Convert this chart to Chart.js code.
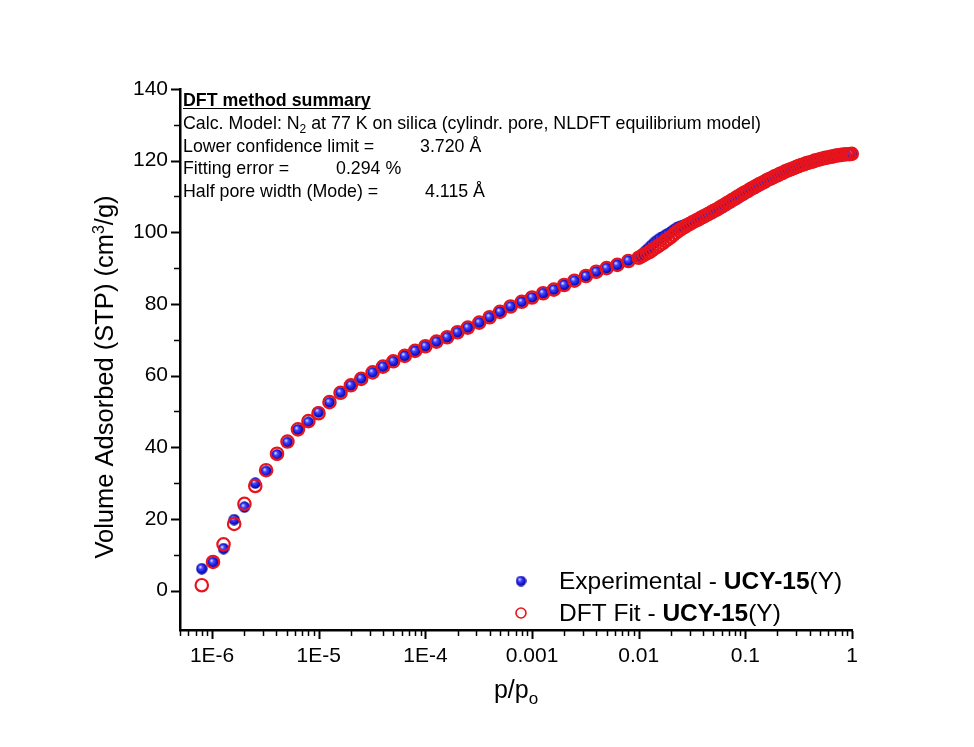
<!DOCTYPE html>
<html><head><meta charset="utf-8">
<script src="https://cdn.jsdelivr.net/npm/chart.js@4.4.0/dist/chart.umd.min.js"></script>
<style>html,body{margin:0;padding:0;background:#fff;}canvas{display:block;}</style>
</head><body>
<canvas id="c" width="974" height="747"></canvas>
<script>
// ---------- DATA ----------
const pressure = [
  8.0e-7, 1.02e-6, 1.28e-6, 1.61e-6, 2.01e-6, 2.54e-6, 3.21e-6, 4.06e-6, 5.09e-6, 6.38e-6,
  8.0e-6, 9.95e-6, 1.26e-5, 1.6e-5, 2.0e-5, 2.5e-5, 3.2e-5, 4.0e-5, 5.0e-5, 6.4e-5,
  8.0e-5, 1.0e-4, 1.27e-4, 1.6e-4, 2.0e-4, 2.5e-4, 3.2e-4, 4.0e-4, 5.0e-4, 6.3e-4,
  8.0e-4, 1.0e-3, 1.27e-3, 1.6e-3, 2.0e-3, 2.5e-3, 3.2e-3, 4.0e-3, 5.0e-3, 6.3e-3, 8.0e-3,
  0.0100, 0.0106, 0.0112, 0.0119, 0.0126, 0.0133, 0.0141, 0.0150, 0.0158, 0.0168,
  0.0178, 0.0188, 0.0200, 0.0211, 0.0224, 0.0237, 0.0251, 0.0266, 0.0282, 0.0299,
  0.0316, 0.0335, 0.0355, 0.0376, 0.0398, 0.0422, 0.0447, 0.0473, 0.0501, 0.0531,
  0.0562, 0.0596, 0.0631, 0.0668, 0.0708, 0.0750, 0.0794, 0.0841, 0.0891, 0.0944,
  0.100, 0.106, 0.112, 0.119, 0.126, 0.133, 0.141, 0.150, 0.158, 0.168,
  0.178, 0.188, 0.200, 0.211, 0.224, 0.237, 0.251, 0.266, 0.282, 0.299,
  0.316, 0.335, 0.355, 0.376, 0.398, 0.422, 0.447, 0.473, 0.501, 0.531,
  0.562, 0.596, 0.631, 0.668, 0.708, 0.750, 0.794, 0.841, 0.891, 0.944, 0.995
];
const experimental = [
  6.1, 7.9, 11.7, 19.8, 23.3, 30.0, 33.3, 37.9, 41.4, 44.9,
  47.0, 49.8, 52.5, 55.3, 57.3, 59.2, 60.9, 62.5, 64.0, 65.5,
  66.9, 68.2, 69.5, 70.7, 72.1, 73.4, 74.8, 76.3, 77.8, 79.3,
  80.6, 81.8, 83.0, 84.0, 85.3, 86.5, 87.8, 89.0, 90.0, 90.9, 92.1,
  93.1, 93.7, 94.4, 95.1, 95.8, 96.5, 97.2, 97.8, 98.3, 98.7,
  99.2, 99.6, 100.1, 100.6, 101.1, 101.5, 101.8, 102.0, 102.3, 102.5,
  102.6, 102.9, 103.2, 103.5, 103.9, 104.3, 104.7, 105.1, 105.5, 105.9,
  106.3, 106.8, 107.2, 107.6, 108.1, 108.5, 109.0, 109.4, 109.9, 110.3,
  110.8, 111.2, 111.7, 112.1, 112.5, 112.9, 113.3, 113.7, 114.1, 114.5,
  114.9, 115.2, 115.6, 116.0, 116.3, 116.7, 117.0, 117.3, 117.6, 117.9,
  118.2, 118.5, 118.8, 119.0, 119.3, 119.5, 119.7, 120.0, 120.2, 120.4,
  120.6, 120.8, 121.0, 121.1, 121.3, 121.4, 121.5, 121.6, 121.7, 121.8, 121.9
];
const dftFit = [
  1.5, 8.0, 12.9, 18.6, 24.2, 29.2, 33.6, 38.2, 41.6, 45.0,
  47.3, 49.5, 52.6, 55.2, 57.3, 59.1, 60.9, 62.5, 64.0, 65.5,
  66.9, 68.2, 69.5, 70.7, 72.1, 73.4, 74.8, 76.3, 77.8, 79.3,
  80.6, 81.8, 83.0, 84.0, 85.3, 86.5, 87.8, 89.0, 90.0, 90.9, 92.0,
  92.9, 93.3, 93.7, 94.1, 94.5, 95.0, 95.5, 96.0, 96.5, 97.0,
  97.6, 98.1, 98.7, 99.3, 99.9, 100.5, 101.0, 101.4, 101.9, 102.3,
  102.7, 103.1, 103.5, 103.9, 104.3, 104.7, 105.1, 105.5, 105.9, 106.3,
  106.7, 107.2, 107.6, 108.1, 108.5, 109.0, 109.4, 109.9, 110.3, 110.8,
  111.2, 111.6, 112.1, 112.5, 112.9, 113.3, 113.7, 114.1, 114.5, 114.9,
  115.2, 115.6, 115.9, 116.3, 116.6, 117.0, 117.3, 117.6, 117.9, 118.2,
  118.5, 118.8, 119.0, 119.3, 119.5, 119.7, 120.0, 120.2, 120.4, 120.6,
  120.8, 120.9, 121.1, 121.2, 121.4, 121.5, 121.6, 121.7, 121.8, 121.8, 121.9
];
const xTickValues = [1e-6, 1e-5, 1e-4, 1e-3, 1e-2, 1e-1, 1];
const xTickLabels = ['1E-6', '1E-5', '1E-4', '0.001', '0.01', '0.1', '1'];
const yTickValues = [0, 20, 40, 60, 80, 100, 120, 140];
const yMinorTicks = [10, 30, 50, 70, 90, 110, 130];
const seriesExp = ['Experimental - ', 'UCY-15', '(Y)'];
const seriesFit = ['DFT Fit - ', 'UCY-15', '(Y)'];
const yTitle = ['Volume Adsorbed (STP) (cm', '3', '/g)'];
const xTitle = ['p/p', 'o'];
const summaryTitle = 'DFT method summary';
const summaryModel = ['Calc. Model: N', '2', ' at 77 K on silica (cylindr. pore, NLDFT equilibrium model)'];
const summaryRows = [
  ['Lower confidence limit =', '3.720 Å'],
  ['Fitting error =', '0.294 %'],
  ['Half pore width (Mode) =', '4.115 Å']
];

// ---------- STYLE ----------
const FONT = "'Liberation Sans', Arial, sans-serif";
Chart.defaults.font.family = FONT;
Chart.defaults.color = '#000';

function makeSphere(d) {
  const c = document.createElement('canvas');
  c.width = d; c.height = d;
  const g = c.getContext('2d');
  const r = d / 2;
  const grd = g.createRadialGradient(r * 0.72, r * 0.68, 0.3, r, r, r);
  grd.addColorStop(0, '#e6e6ff');
  grd.addColorStop(0.28, '#4a4aff');
  grd.addColorStop(0.7, '#1212d2');
  grd.addColorStop(1, '#06067a');
  g.fillStyle = grd;
  g.beginPath(); g.arc(r, r, r - 0.3, 0, Math.PI * 2); g.fill();
  return c;
}
const sphere = makeSphere(12);
const sphereSmall = makeSphere(11);
const RED = '#e8141c';

const decorations = {
  id: 'decorations',
  afterDraw(chart) {
    const ctx = chart.ctx;
    const xs = chart.scales.x, ys = chart.scales.y;
    const area = chart.chartArea;
    ctx.save();
    ctx.strokeStyle = '#000';
    // y ticks (outward)
    yTickValues.forEach(v => {
      const py = Math.round(ys.getPixelForValue(v)) + 0.5;
      ctx.lineWidth = 2; ctx.beginPath(); ctx.moveTo(area.left - 1, py); ctx.lineTo(area.left - 9, py); ctx.stroke();
    });
    yMinorTicks.forEach(v => {
      const py = Math.round(ys.getPixelForValue(v)) + 0.5;
      ctx.lineWidth = 1.5; ctx.beginPath(); ctx.moveTo(area.left - 1, py); ctx.lineTo(area.left - 6, py); ctx.stroke();
    });
    // x ticks (outward)
    xTickValues.forEach(v => {
      const px = Math.round(xs.getPixelForValue(v)) + 0.5;
      ctx.lineWidth = 2; ctx.beginPath(); ctx.moveTo(px, area.bottom + 1); ctx.lineTo(px, area.bottom + 9); ctx.stroke();
    });
    for (let d = 1e-7; d < 1; d *= 10) {
      for (let m = 2; m <= 9; m++) {
        const v = m * d;
        if (v < xs.min || v > xs.max) continue;
        const px = Math.round(xs.getPixelForValue(v)) + 0.5;
        ctx.lineWidth = 1.5; ctx.beginPath(); ctx.moveTo(px, area.bottom + 1); ctx.lineTo(px, area.bottom + 6); ctx.stroke();
      }
    }
    ctx.fillStyle = '#000';
    // y title
    ctx.save();
    ctx.translate(113, 377);
    ctx.rotate(-Math.PI / 2);
    const fY = '25.5px ' + FONT, fYs = '16px ' + FONT;
    ctx.font = fY; const w1 = ctx.measureText(yTitle[0]).width; const w3 = ctx.measureText(yTitle[2]).width;
    ctx.font = fYs; const w2 = ctx.measureText(yTitle[1]).width;
    let sx = -(w1 + w2 + w3) / 2;
    ctx.textBaseline = 'alphabetic'; ctx.textAlign = 'left';
    ctx.font = fY; ctx.fillText(yTitle[0], sx, 0); sx += w1;
    ctx.font = fYs; ctx.fillText(yTitle[1], sx, -9); sx += w2;
    ctx.font = fY; ctx.fillText(yTitle[2], sx, 0);
    ctx.restore();
    // x title
    ctx.textAlign = 'left'; ctx.textBaseline = 'alphabetic';
    ctx.font = '25px ' + FONT; const xw1 = ctx.measureText(xTitle[0]).width;
    ctx.font = '17px ' + FONT; const xw2 = ctx.measureText(xTitle[1]).width;
    const xc = (area.left + area.right) / 2;
    let tx = xc - (xw1 + xw2) / 2;
    ctx.font = '25px ' + FONT; ctx.fillText(xTitle[0], tx, 698);
    ctx.font = '17px ' + FONT; ctx.fillText(xTitle[1], tx + xw1, 704);
    // summary annotation
    const fs = '17.8px ' + FONT;
    ctx.font = 'bold ' + fs;
    ctx.fillText(summaryTitle, 183, 106);
    const uw = ctx.measureText(summaryTitle).width;
    ctx.lineWidth = 1.2; ctx.beginPath(); ctx.moveTo(183, 108.5); ctx.lineTo(183 + uw, 108.5); ctx.stroke();
    ctx.font = fs;
    let mx = 183;
    ctx.fillText(summaryModel[0], mx, 129); mx += ctx.measureText(summaryModel[0]).width;
    ctx.font = '12px ' + FONT; ctx.fillText(summaryModel[1], mx, 133); mx += ctx.measureText(summaryModel[1]).width;
    ctx.font = fs; ctx.fillText(summaryModel[2], mx, 129);
    const rowY = [152, 174, 197];
    const valX = [420, 336, 425];
    summaryRows.forEach((r, i) => {
      ctx.fillText(r[0], 183, rowY[i]);
      ctx.fillText(r[1], valX[i], rowY[i]);
    });
    // legend
    ctx.drawImage(sphereSmall, 521 - 5.5, 581 - 5.5);
    ctx.strokeStyle = RED; ctx.lineWidth = 1.6;
    ctx.beginPath(); ctx.arc(521, 613, 5, 0, Math.PI * 2); ctx.stroke();
    const drawMixed = (parts, x, y) => {
      const fonts = ['24.5px ' + FONT, 'bold 24.5px ' + FONT, '24.5px ' + FONT];
      parts.forEach((p, i) => { ctx.font = fonts[i]; ctx.fillText(p, x, y); x += ctx.measureText(p).width; });
    };
    ctx.fillStyle = '#000';
    drawMixed(seriesExp, 559, 589);
    drawMixed(seriesFit, 559, 621);
    ctx.restore();
  }
};

const ctx = document.getElementById('c').getContext('2d');
new Chart(ctx, {
  type: 'scatter',
  data: {
    datasets: [
      {
        label: 'DFT Fit - UCY-15(Y)',
        data: pressure.map((p, i) => ({ x: p, y: dftFit[i] })),
        pointStyle: 'circle',
        pointRadius: 6.2,
        pointBorderWidth: 2.2,
        pointBorderColor: RED,
        pointBackgroundColor: 'rgba(0,0,0,0)',
        showLine: false,
        clip: false,
        order: 0
      },
      {
        label: 'Experimental - UCY-15(Y)',
        data: pressure.map((p, i) => ({ x: p, y: experimental[i] })),
        pointStyle: sphere,
        pointRadius: 6,
        showLine: false,
        clip: false,
        order: 1
      }
    ]
  },
  options: {
    responsive: false,
    animation: false,
    events: [],
    layout: { padding: { left: 0, top: 89, right: 122, bottom: 0 } },
    plugins: { legend: { display: false }, tooltip: { enabled: false }, title: { display: false } },
    scales: {
      x: {
        type: 'logarithmic',
        min: 5e-7, max: 1,
        grid: { display: false, drawTicks: false },
        border: { display: true, color: '#000', width: 2.5 },
        afterBuildTicks: s => { s.ticks = xTickValues.map(v => ({ value: v, major: true })); },
        afterFit: s => { s.height = 117; },
        ticks: {
          autoSkip: false, maxRotation: 0, minRotation: 0,
          padding: 14,
          font: { size: 21, family: FONT }, color: '#000',
          callback: (v, i) => xTickLabels[i]
        }
      },
      y: {
        type: 'linear',
        min: -11, max: 140,
        grid: { display: false, drawTicks: false },
        border: { display: true, color: '#000', width: 2.5 },
        afterBuildTicks: s => { s.ticks = yTickValues.map(v => ({ value: v })); },
        afterFit: s => { s.width = 180; },
        ticks: {
          padding: 12,
          font: { size: 21, family: FONT }, color: '#000',
          callback: v => String(v)
        }
      }
    }
  },
  plugins: [decorations]
});
</script>
</body></html>
